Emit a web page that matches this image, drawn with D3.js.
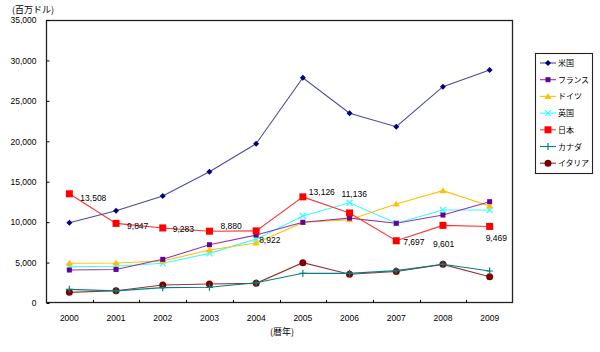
<!DOCTYPE html>
<html><head><meta charset="utf-8">
<script src="https://cdn.jsdelivr.net/npm/d3@7"></script>
<style>body{margin:0;background:#fff}svg{display:block}</style>
</head><body>
<svg id="c" width="600" height="352"></svg>
<script>
const years = ["2000","2001","2002","2003","2004","2005","2006","2007","2008","2009"];
const yTicks = [0,5000,10000,15000,20000,25000,30000,35000];
const us      = [9930,11420,13230,16240,19700,27860,23460,21800,26750,28820];
const france  = [4080,4150,5400,7210,8400,9980,10500,9860,10880,12530];
const germany = [4910,4950,5190,6550,7420,9950,10300,12240,13890,12000];
const uk      = [4490,4550,4910,6140,7900,10760,12400,9860,11500,11500];
const japan   = [13508,9847,9283,8880,8922,13126,11136,7697,9601,9469];
const canada  = [1690,1500,1900,1940,2500,3670,3670,4000,4800,3960];
const italy   = [1320,1520,2230,2350,2430,4990,3550,3900,4780,3250];
const names   = ["米国","フランス","ドイツ","英国","日本","カナダ","イタリア"];
const japanLabels = ["13,508","9,847","9,283","8,880","8,922","13,126","11,136","7,697","9,601","9,469"];

const seriesList = [
  {name:names[0], vals:us, line:"#4a4aa0", fill:"#000080", m:"diamond"},
  {name:names[1], vals:france, line:"#9933aa", fill:"#660099", m:"square"},
  {name:names[2], vals:germany, line:"#ffc000", fill:"#ffc000", m:"triangle"},
  {name:names[3], vals:uk, line:"#33ffff", fill:"#33ffff", m:"x"},
  {name:names[4], vals:japan, line:"#ff3333", fill:"#ff0000", m:"bigsquare"},
  {name:names[5], vals:canada, line:"#008080", fill:"#008080", m:"plus"},
  {name:names[6], vals:italy, line:"#993333", fill:"#800000", m:"circle"}
];

const svg = d3.select("#c");
const L=46, R=513, T=20, B=303;
const x = d3.scaleBand().domain(years).range([L,R]);
const xc = d => x(d)+x.bandwidth()/2;
const y = d3.scaleLinear().domain([0,35000]).range([B,T]);
const numFont = "Liberation Sans, Arial, sans-serif";
const jpFont = "Noto Sans CJK JP, sans-serif";

// frame
svg.append("rect").attr("x",L+0.5).attr("y",T+0.5).attr("width",R-L-1).attr("height",B-T-1)
  .attr("fill","none").attr("stroke","#222").attr("stroke-width",1.3);

// y axis
const ya = svg.append("g").attr("transform",`translate(${L+0.5},0)`)
  .call(d3.axisLeft(y).tickValues(yTicks).tickSize(-3).tickPadding(10).tickFormat(d3.format(",")));
ya.select(".domain").remove();
ya.selectAll("text").attr("font-family",numFont).attr("font-size",8.5).attr("fill","#000");
ya.selectAll("line").attr("stroke","#000");

// x axis
const xa = svg.append("g").attr("transform",`translate(0,${B-0.5})`)
  .call(d3.axisBottom(x).tickSize(0).tickPadding(12));
xa.select(".domain").remove();
xa.selectAll("text").attr("font-family",numFont).attr("font-size",8.5).attr("fill","#000");
// inner ticks between categories
svg.append("g").selectAll("line").data(years.slice(1)).join("line")
  .attr("x1",d=>Math.round(x(d))+0.5).attr("x2",d=>Math.round(x(d))+0.5)
  .attr("y1",B-3).attr("y2",B).attr("stroke","#000");

// titles
svg.append("text").attr("x",12).attr("y",13).attr("font-family",jpFont).attr("font-size",9)
  .text("(百万ドル)");
svg.append("text").attr("x",282).attr("y",335).attr("text-anchor","middle").attr("font-family",jpFont).attr("font-size",9)
  .text("(暦年)");

function marker(g, type, cx, cy, s){
  const fill = s.fill;
  if(type==="diamond") g.append("path").attr("d",`M${cx},${cy-3}L${cx+3},${cy}L${cx},${cy+3}L${cx-3},${cy}Z`).attr("fill",fill);
  else if(type==="square") g.append("rect").attr("x",cx-2.5).attr("y",cy-2.5).attr("width",5).attr("height",5).attr("fill",fill);
  else if(type==="bigsquare") g.append("rect").attr("x",cx-3.5).attr("y",cy-3.5).attr("width",7).attr("height",7).attr("fill",fill);
  else if(type==="triangle") g.append("path").attr("d",`M${cx},${cy-3.5}L${cx+3.5},${cy+2.5}L${cx-3.5},${cy+2.5}Z`).attr("fill",fill);
  else if(type==="x") g.append("path").attr("d",`M${cx-3},${cy-3}L${cx+3},${cy+3}M${cx+3},${cy-3}L${cx-3},${cy+3}`).attr("stroke",fill).attr("stroke-width",1.2);
  else if(type==="plus") g.append("path").attr("d",`M${cx-3.5},${cy}L${cx+3.5},${cy}M${cx},${cy-3.5}L${cx},${cy+3.5}`).attr("stroke",fill).attr("stroke-width",1.2);
  else if(type==="circle") g.append("circle").attr("cx",cx).attr("cy",cy).attr("r",3.5).attr("fill",fill);
}

const line = d3.line().x((d,i)=>xc(years[i])).y(d=>y(d));
const drawOrder = [6,5,3,2,1,4,0];
drawOrder.forEach(k=>{
  const s = seriesList[k];
  const g = svg.append("g");
  g.append("path").datum(s.vals).attr("d",line).attr("fill","none").attr("stroke",s.line).attr("stroke-width",1.1);
  s.vals.forEach((v,i)=>marker(g, s.m, xc(years[i]), y(v), s));
});

// Japan labels (offsets relative to point)
const off = [[11,7],[11,6],[10,4],[11,-2],[3,12],[6,-2],[-8,-16],[7,4],[-10,22],[-4,15]];
svg.append("g").selectAll("text").data(japan).join("text")
  .attr("x",(d,i)=>xc(years[i])+off[i][0]).attr("y",(d,i)=>y(d)+off[i][1])
  .attr("font-family",numFont).attr("font-size",8.5).text((d,i)=>japanLabels[i]);

// legend
const lg = svg.append("g");
lg.append("rect").attr("x",535.5).attr("y",53.5).attr("width",57).attr("height",120)
  .attr("fill","#fff").attr("stroke","#222").attr("stroke-width",1.1);
seriesList.forEach((s,i)=>{
  const cy = 63 + i*16.7;
  lg.append("line").attr("x1",540).attr("x2",556).attr("y1",cy).attr("y2",cy).attr("stroke",s.line).attr("stroke-width",1.1);
  marker(lg, s.m, 548, cy, s);
  lg.append("text").attr("x",558).attr("y",cy+3).attr("font-family",jpFont).attr("font-size",8)
    .attr("textLength", s.name.length>=4 ? 31 : null).text(s.name);
});
</script>
</body></html>
